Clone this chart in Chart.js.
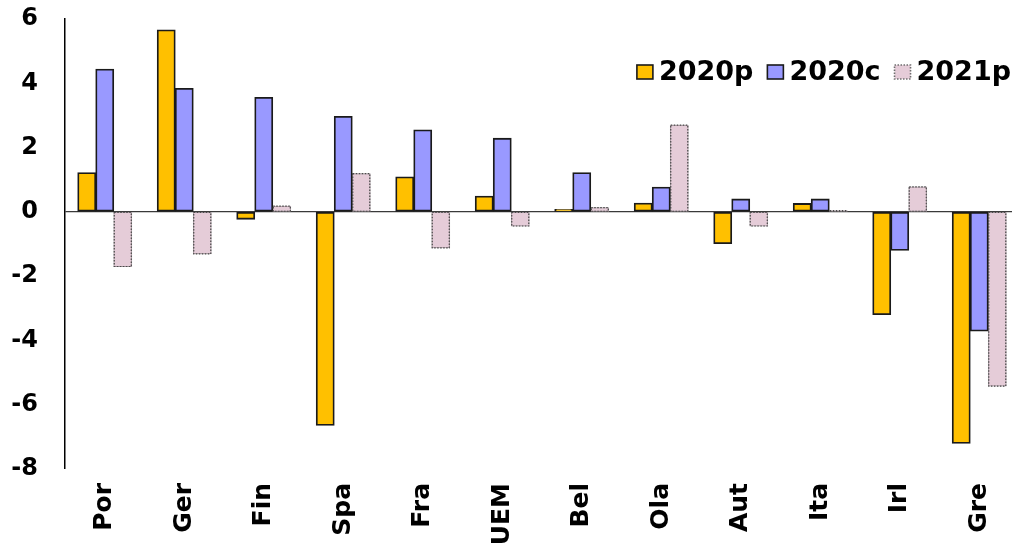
<!DOCTYPE html>
<html>
<head>
<meta charset="utf-8">
<script src="https://cdn.jsdelivr.net/npm/chart.js@4"></script>
<style>
  html, body { margin: 0; padding: 0; background: #ffffff; overflow: hidden; }
  #wrap { width: 1012px; height: 544px; overflow: hidden; }
  canvas { display: block; }
</style>
</head>
<body>
<div id="wrap"><canvas id="chart" width="1019" height="544" style="width:1019px;height:544px"></canvas></div>
<script>
// Country codes along the x axis
const categories = ['Por', 'Ger', 'Fin', 'Spa', 'Fra', 'UEM', 'Bel', 'Ola', 'Aut', 'Ita', 'Irl', 'Gre'];

// Series values
const seriesNames = ['2020p', '2020c', '2021p'];
const values2020p = [1.22, 5.66, -0.23, -6.64, 1.09, 0.49, 0.08, 0.27, -0.99, 0.26, -3.20, -7.20];
const values2020c = [4.44, 3.84, 3.56, 2.97, 2.55, 2.29, 1.22, 0.77, 0.40, 0.40, -1.20, -3.71];
const values2021p = [-1.70, -1.31, 0.18, 1.19, -1.12, -0.44, 0.13, 2.70, -0.44, 0.04, 0.78, -5.42];

// Y axis ticks
const yTicks = [-8, -6, -4, -2, 0, 2, 4, 6];

const FONT = "'DejaVu Sans', 'Liberation Sans', sans-serif";

// Dotted outline for the 2021p bars (drawn over the element rectangles)
const dottedOutline = {
  id: 'dottedOutline',
  afterDatasetsDraw(chart) {
    const meta = chart.getDatasetMeta(2);
    const ctx = chart.ctx;
    ctx.save();
    ctx.setLineDash([1.5, 1.5]);
    ctx.strokeStyle = '#4a4a4a';
    ctx.lineWidth = 1.2;
    meta.data.forEach(el => {
      const p = el.getProps(['x', 'y', 'base', 'width'], true);
      const left = p.x - p.width / 2;
      const top = Math.min(p.y, p.base);
      const h = Math.abs(p.base - p.y);
      ctx.strokeRect(left + 0.5, top, p.width - 1, h);
    });
    ctx.restore();
  }
};

// Horizontal legend placed inside the plot area, top right
const innerLegend = {
  id: 'innerLegend',
  afterDraw(chart) {
    const ctx = chart.ctx;
    const area = chart.chartArea;
    const boxW = 16, boxH = 14, boxGap = 6, itemGap = 14;
    ctx.save();
    ctx.font = 'bold 27px ' + FONT;
    ctx.textBaseline = 'middle';
    ctx.textAlign = 'left';
    const items = chart.data.datasets.map(ds => ({
      text: ds.label,
      fill: ds.backgroundColor,
      stroke: ds.dotted ? '#6e6e6e' : '#1a1a1a',
      dash: ds.dotted ? [1.5, 1.5] : [],
      width: ctx.measureText(ds.label).width
    }));
    const total = items.reduce((s, it) => s + boxW + boxGap + it.width, 0) + itemGap * (items.length - 1);
    let x = area.right - 8 - total;
    const cy = area.top + 53;
    items.forEach(it => {
      ctx.fillStyle = it.fill;
      ctx.fillRect(x, cy - boxH / 2, boxW, boxH);
      ctx.setLineDash(it.dash);
      ctx.strokeStyle = it.stroke;
      ctx.lineWidth = 1.6;
      ctx.strokeRect(x, cy - boxH / 2, boxW, boxH);
      ctx.setLineDash([]);
      ctx.fillStyle = '#000';
      ctx.fillText(it.text, x + boxW + boxGap, cy + 1);
      x += boxW + boxGap + it.width + itemGap;
    });
    ctx.restore();
  }
};

new Chart(document.getElementById('chart'), {
  type: 'bar',
  data: {
    labels: categories,
    datasets: [
      {
        label: seriesNames[0],
        data: values2020p,
        backgroundColor: '#FFC000',
        borderColor: '#1a1a1a',
        borderWidth: 1.8,
        borderSkipped: false
      },
      {
        label: seriesNames[1],
        data: values2020c,
        backgroundColor: '#9999FF',
        borderColor: '#1a1a1a',
        borderWidth: 1.8,
        borderSkipped: false
      },
      {
        label: seriesNames[2],
        data: values2021p,
        backgroundColor: '#E5CCD8',
        borderColor: '#a89aa2',
        borderWidth: 1,
        borderSkipped: false,
        dotted: true
      }
    ]
  },
  options: {
    responsive: false,
    animation: false,
    devicePixelRatio: 1,
    layout: { padding: { top: 19, left: 0, right: 0, bottom: 0 } },
    datasets: {
      bar: { categoryPercentage: 0.68, barPercentage: 1.0, inflateAmount: 0.4 }
    },
    scales: {
      x: {
        grid: { display: false, drawTicks: false },
        border: { display: false },
        ticks: {
          color: '#000',
          font: { family: FONT, size: 25, weight: 'bold' },
          maxRotation: 90,
          minRotation: 90,
          padding: 14,
          autoSkip: false
        },
        afterFit(scale) {
          scale.height = 75;
          scale.paddingLeft = 0;
          scale.paddingRight = 0;
        }
      },
      y: {
        min: -8,
        max: 6,
        afterBuildTicks(scale) { scale.ticks = yTicks.map(v => ({ value: v })); },
        grid: {
          display: true,
          drawTicks: false,
          color: ctx => (ctx.tick && ctx.tick.value === 0 ? '#3a3a3a' : 'rgba(0,0,0,0)'),
          lineWidth: ctx => (ctx.tick && ctx.tick.value === 0 ? 1.2 : 0)
        },
        border: { display: true, color: '#000', width: 1.5 },
        ticks: {
          color: '#000',
          font: { family: FONT, size: 24, weight: 'bold' },
          padding: 27
        },
        afterFit(scale) {
          scale.width = 65;
          scale.paddingTop = 0;
          scale.paddingBottom = 0;
        }
      }
    },
    plugins: {
      legend: { display: false },
      tooltip: { enabled: false }
    }
  },
  plugins: [dottedOutline, innerLegend]
});
</script>
</body>
</html>
